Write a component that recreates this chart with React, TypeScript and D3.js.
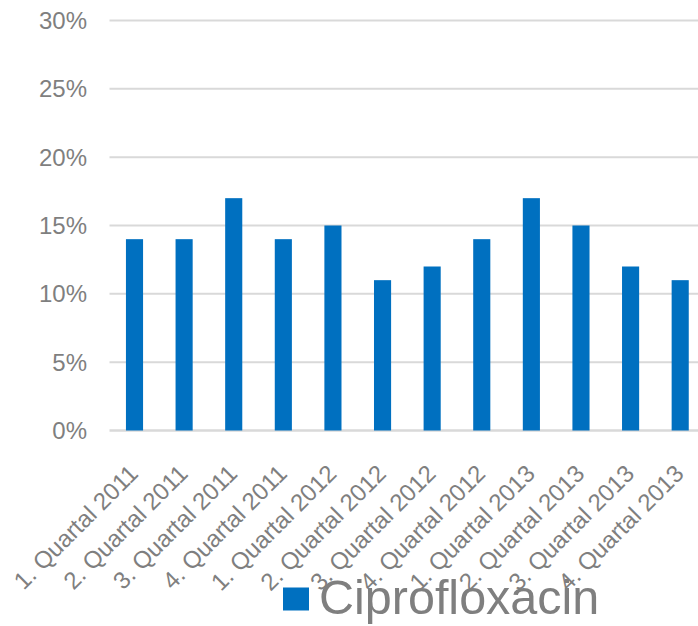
import { useRef, useEffect } from 'react';
import * as d3 from 'd3';

const categories = [
    '1. Quartal 2011', '2. Quartal 2011', '3. Quartal 2011', '4. Quartal 2011',
    '1. Quartal 2012', '2. Quartal 2012', '3. Quartal 2012', '4. Quartal 2012',
    '1. Quartal 2013', '2. Quartal 2013', '3. Quartal 2013', '4. Quartal 2013',
];
const ciprofloxacin = [0.14, 0.14, 0.17, 0.14, 0.15, 0.11, 0.12, 0.14, 0.17, 0.15, 0.12, 0.11];
const yTicks = [0, 0.05, 0.1, 0.15, 0.2, 0.25, 0.3];
const seriesName = 'Ciprofloxacin';

const width = 698;
const height = 626;
const barColor = '#0070C0';
const textColor = '#7f7f7f';
const gridColor = '#d9d9d9';
const font = '"Liberation Sans", Arial, sans-serif';

export default function App() {
    const svgRef = useRef<SVGSVGElement>(null);

    useEffect(() => {
        if (!svgRef.current) return;
        const svg = d3.select(svgRef.current);
        svg.selectAll('*').remove();

        // plot area (right side runs past the window edge, like the original)
        const x = d3.scaleBand<string>()
            .domain(categories)
            .range([109.7, 705])
            .paddingInner(0.655)
            .paddingOuter(0.3275);

        const y = d3.scaleLinear()
            .domain([0, 0.3])
            .range([430.5, 20.5]);

        // gridlines
        svg.append('g')
            .selectAll('line')
            .data(yTicks)
            .join('line')
            .attr('x1', 109.5)
            .attr('x2', width)
            .attr('y1', d => y(d))
            .attr('y2', d => y(d))
            .attr('stroke', gridColor)
            .attr('stroke-width', d => (d === 0 ? 2.5 : 2));

        // y labels
        svg.append('g')
            .selectAll('text')
            .data(yTicks)
            .join('text')
            .attr('x', 87)
            .attr('y', d => y(d))
            .attr('dy', '0.35em')
            .attr('text-anchor', 'end')
            .attr('fill', textColor)
            .attr('font-family', font)
            .attr('font-size', 24)
            .text(d => d3.format('.0%')(d));

        // bars
        svg.append('g')
            .selectAll('rect')
            .data(ciprofloxacin)
            .join('rect')
            .attr('x', (_, i) => x(categories[i])!)
            .attr('y', d => y(d))
            .attr('width', x.bandwidth())
            .attr('height', d => y(0) - y(d))
            .attr('fill', barColor);

        // x labels, rotated
        svg.append('g')
            .selectAll('text')
            .data(categories)
            .join('text')
            .attr('transform', d => `translate(${x(d)! + x.bandwidth() / 2 + 5},475) rotate(-45)`)
            .attr('text-anchor', 'end')
            .attr('fill', textColor)
            .attr('font-family', font)
            .attr('font-size', 24)
            .text(d => d);

        // legend
        const legend = svg.append('g');
        legend.append('rect')
            .attr('x', 283)
            .attr('y', 587.5)
            .attr('width', 26)
            .attr('height', 23)
            .attr('fill', barColor);
        legend.append('text')
            .attr('x', 319)
            .attr('y', 614)
            .attr('fill', textColor)
            .attr('font-family', font)
            .attr('font-size', 48.5)
            .text(seriesName);
    }, []);

    return (
        <div style={{ position: 'fixed', left: 0, top: 0 }}>
            <svg ref={svgRef} width={width} height={height} style={{ display: 'block', background: '#fff' }} />
        </div>
    );
}
